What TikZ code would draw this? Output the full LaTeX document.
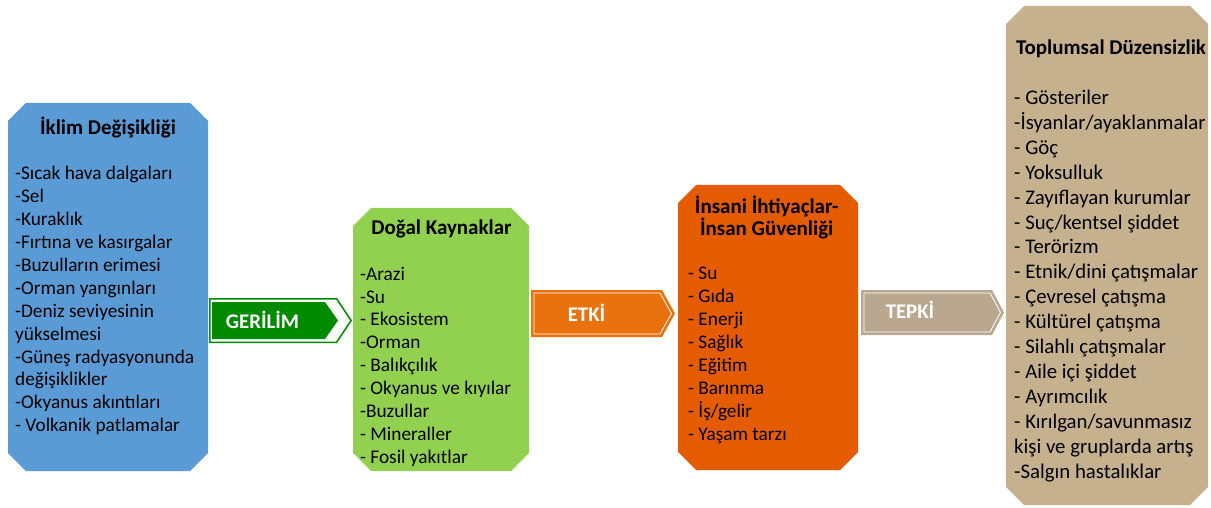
\documentclass[tikz,border=0pt]{standalone}
\usepackage{fontspec}
\setmainfont{Carlito}
\definecolor{cblue}{HTML}{5B9BD5}
\definecolor{cgreen}{HTML}{92D050}
\definecolor{corange}{HTML}{E55C00}
\definecolor{ctan}{HTML}{C6B18F}
\definecolor{agreen}{HTML}{008A00}
\definecolor{aorange}{HTML}{E9720F}
\definecolor{atan}{HTML}{BAA790}
\newcommand{\octfill}[2]{%
  \fill[#2] ([xshift=18pt]#1.north west) -- ([xshift=-18pt]#1.north east)
   -- ([yshift=-18pt]#1.north east) -- ([yshift=18pt]#1.south east)
   -- ([xshift=-18pt]#1.south east) -- ([xshift=18pt]#1.south west)
   -- ([yshift=18pt]#1.south west) -- ([yshift=-18pt]#1.north west) -- cycle;}
\begin{document}
\begin{tikzpicture}[x=1pt,y=-1pt,
  box/.style={rectangle, inner sep=0pt, outer sep=0pt, draw=none},
  ttl/.style={font=\bfseries\fontsize{21}{22}\selectfont, align=center, anchor=base, inner sep=0pt},
  lst/.style={font=\fontsize{19.3}{22.9}\selectfont, align=left, anchor=base west, inner sep=0pt},
  atxt/.style={font=\bfseries\fontsize{20.8}{21}\selectfont, text=white, inner sep=0pt, anchor=base}]
\useasboundingbox[fill=white] (0,0) rectangle (1211,508);

% boxes
\node[box, minimum width=200pt, minimum height=368pt] (b1) at (108,287) {};
\node[box, minimum width=176pt, minimum height=263pt] (b2) at (441,339.5) {};
\node[box, minimum width=180pt, minimum height=285pt] (b3) at (768,327.5) {};
\node[box, minimum width=202pt, minimum height=499pt] (b4) at (1107,255.5) {};
\octfill{b1}{cblue}
\octfill{b2}{cgreen}
\octfill{b3}{corange}
\octfill{b4}{ctan}

% box 1
\node[ttl] (t1) at (108,134.3) {İklim Değişikliği};
\node[lst] (l1) at (15,431.7) {-Sıcak hava dalgaları\\-Sel\\-Kuraklık\\-Fırtına ve kasırgalar\\-Buzulların erimesi\\-Orman yangınları\\-Deniz seviyesinin\\yükselmesi\\-Güneş radyasyonunda\\değişiklikler\\-Okyanus akıntıları\\- Volkanik patlamalar};

% box 2
\node[ttl] (t2) at (441.5,234.3) {Doğal Kaynaklar};
\node[lst] (l2) at (360,463.3) {-Arazi\\-Su\\- Ekosistem\\-Orman\\- Balıkçılık\\- Okyanus ve kıyılar\\-Buzullar\\- Mineraller\\- Fosil yakıtlar};

% box 3
\node[ttl] (t3) at (766.7,236) {İnsani İhtiyaçlar-\\İnsan Güvenliği};
\node[lst] (l3) at (688,440) {- Su\\- Gıda\\- Enerji\\- Sağlık\\- Eğitim\\- Barınma\\- İş/gelir\\- Yaşam tarzı};

% box 4
\node[ttl] (t4) at (1111,55) {Toplumsal Düzensizlik};
\node[lst, font=\fontsize{20.8}{24.9}\selectfont] (l4) at (1014,478) {- Gösteriler\\-İsyanlar/ayaklanmalar\\- Göç\\- Yoksulluk\\- Zayıflayan kurumlar\\- Suç/kentsel şiddet\\- Terörizm\\- Etnik/dini çatışmalar\\- Çevresel çatışma\\- Kültürel çatışma\\- Silahlı çatışmalar\\- Aile içi şiddet\\- Ayrımcılık\\- Kırılgan/savunmasız\\kişi ve gruplarda artış\\-Salgın hastalıklar};

% arrow GERILIM
\fill[agreen] (209,298) -- (337,298) -- (352,320.5) -- (337,343) -- (209,343) -- cycle;
\fill[white] (210.5,299.5) -- (336,299.5) -- (350,320.5) -- (336,341.5) -- (210.5,341.5) -- cycle;
\fill[agreen] (212,302) -- (325,302) -- (338,320.5) -- (325,339) -- (212,339) -- cycle;
\node[atxt] (a1) at (262.5,328.3) {GERİLİM};

% arrow ETKI
\fill[aorange] (531,290) -- (662,290) -- (675,313.5) -- (662,337) -- (531,337) -- cycle;
\draw[white, line width=0.8pt] (534,293) -- (660,293) -- (671.5,313.5) -- (660,334) -- (534,334) -- cycle;
\node[atxt] (a2) at (586.5,321.7) {ETKİ};

% arrow TEPKI
\fill[atan] (861,290) -- (992,290) -- (1004,312.5) -- (992,335) -- (861,335) -- cycle;
\draw[white, line width=0.8pt] (864,293) -- (990,293) -- (1000.5,312.5) -- (990,332) -- (864,332) -- cycle;
\node[atxt] (a3) at (910,318.3) {TEPKİ};
\end{tikzpicture}
\end{document}
